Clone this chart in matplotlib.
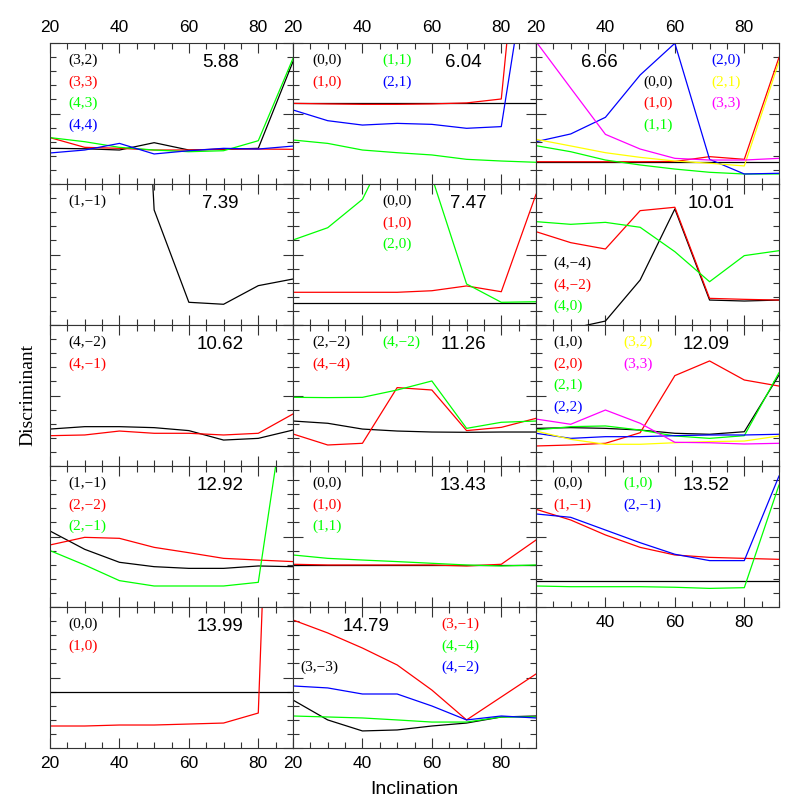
import matplotlib
matplotlib.use("Agg")
import matplotlib.pyplot as plt

# ---------------- data ----------------
INCL = [20, 30, 40, 50, 60, 70, 80, 90]

# panel 5.88
p1_32 = [2.53, 2.50, 2.41, 2.93, 2.41, 2.46, 2.53, 8.68]
p1_33 = [3.29, 2.60, 2.53, 2.41, 2.41, 2.48, 2.48, 2.46]
p1_43 = [3.29, 3.00, 2.60, 2.41, 2.29, 2.36, 3.07, 8.91]
p1_44 = [2.20, 2.41, 2.88, 2.13, 2.36, 2.53, 2.48, 2.69]
# panel 6.04
p2_00 = [5.72, 5.72, 5.72, 5.72, 5.72, 5.72, 5.72, 5.72]
p2_10 = [5.72, 5.68, 5.65, 5.65, 5.68, 5.75, 6.03, 31.0]
p2_11 = [3.12, 2.88, 2.41, 2.22, 2.06, 1.75, 1.63, 1.54]
p2_21 = [5.25, 4.49, 4.18, 4.30, 4.23, 3.95, 4.07, 19.7]
# panel 6.66
p3_00 = [1.58, 1.58, 1.58, 1.58, 1.58, 1.58, 1.58, 1.58]
p3_10 = [1.58, 1.58, 1.58, 1.58, 1.60, 1.94, 1.75, 8.98]
p3_11 = [2.72, 2.29, 1.70, 1.35, 1.06, 0.83, 0.71, 0.71]
p3_20 = [3.00, 3.55, 4.73, 7.73, 9.98, 1.75, 0.71, 0.76]
p3_21 = [3.17, 2.70, 2.22, 1.89, 1.63, 1.47, 1.28, 8.68]
p3_33 = [10.1, 6.80, 3.52, 2.48, 1.82, 1.70, 1.70, 1.82]
# panel 7.39
p4_1m1 = [60.0, 58.0, 54.0, 8.16, 1.61, 1.47, 2.79, 3.26]
# panel 7.47
p5_00 = [1.54, 1.54, 1.54, 1.54, 1.54, 1.54, 1.54, 1.54]
p5_10 = [2.32, 2.32, 2.32, 2.32, 2.43, 2.77, 2.36, 9.27]
p5_20 = [6.03, 6.90, 8.91, 13.9, 10.5, 2.91, 1.61, 1.65]
# panel 10.01
p6_4m4 = [-0.50, -0.26, 0.28, 3.19, 8.23, 1.77, 1.70, 1.77]
p6_4m2 = [6.62, 5.84, 5.39, 8.11, 8.35, 1.89, 1.82, 1.77]
p6_40 = [7.33, 7.14, 7.28, 6.93, 5.20, 3.07, 4.92, 5.27]
# panel 10.62
p7_4m2 = [2.62, 2.79, 2.79, 2.72, 2.51, 1.84, 1.96, 2.55]
p7_4m1 = [2.15, 2.20, 2.48, 2.32, 2.32, 2.20, 2.32, 3.69]
# panel 11.26
p8_2m2 = [3.19, 3.03, 2.62, 2.48, 2.41, 2.39, 2.41, 2.41]
p8_4m4 = [2.27, 1.49, 1.61, 5.56, 5.39, 2.51, 2.74, 3.38]
p8_4m2 = [4.87, 4.85, 4.87, 5.39, 6.03, 2.67, 3.10, 3.19]
# panel 12.09
p9_10 = [2.67, 2.72, 2.67, 2.55, 2.32, 2.25, 2.43, 6.45]
p9_20 = [1.42, 1.49, 1.61, 2.36, 6.41, 7.45, 6.10, 5.67]
p9_21 = [2.55, 2.79, 2.84, 2.55, 2.13, 1.96, 2.15, 6.62]
p9_22 = [2.32, 1.96, 2.08, 2.08, 2.15, 2.20, 2.20, 2.25]
p9_32 = [2.48, 1.89, 1.54, 1.54, 1.65, 1.73, 1.77, 2.13]
p9_33 = [3.33, 2.96, 3.97, 3.03, 1.68, 1.65, 1.56, 1.61]
# panel 12.92
p10_1m1 = [5.39, 4.09, 3.17, 2.86, 2.74, 2.74, 2.91, 2.86]
p10_2m2 = [4.40, 4.94, 4.87, 4.23, 3.85, 3.45, 3.33, 3.22]
p10_2m1 = [4.00, 2.98, 1.87, 1.49, 1.49, 1.49, 1.75, 18.25]
# panel 13.43
p11_00 = [2.98, 2.98, 2.98, 2.98, 2.98, 2.98, 2.98, 2.98]
p11_10 = [3.03, 2.98, 2.98, 2.98, 2.98, 2.91, 3.03, 4.75]
p11_11 = [3.69, 3.45, 3.33, 3.22, 3.10, 2.98, 2.91, 2.98]
# panel 13.52
p12_00 = [1.84, 1.84, 1.84, 1.84, 1.84, 1.84, 1.84, 1.84]
p12_1m1 = [6.93, 6.17, 5.11, 4.23, 3.69, 3.52, 3.45, 3.38]
p12_10 = [1.49, 1.44, 1.44, 1.44, 1.40, 1.32, 1.37, 8.65]
p12_2m1 = [6.60, 6.36, 5.46, 4.56, 3.74, 3.29, 3.29, 9.29]
# panel 13.99
p13_00 = [3.97, 3.97, 3.97, 3.97, 3.97, 3.97, 3.97, 3.97]
p13_10 = [1.56, 1.56, 1.63, 1.63, 1.70, 1.77, 2.48, 70.0]
# panel 14.79
p14_3m3 = [3.40, 1.99, 1.21, 1.28, 1.56, 1.77, 2.20, 2.27]
p14_3m1 = [9.08, 8.16, 7.09, 5.89, 4.11, 1.99, 3.62, 5.25]
p14_4m4 = [2.27, 2.20, 2.13, 1.99, 1.84, 1.84, 2.20, 2.20]
p14_4m2 = [4.40, 4.26, 3.83, 3.83, 2.98, 1.99, 2.27, 2.13]

TITLES = ["5.88", "6.04", "6.66", "7.39", "7.47", "10.01", "10.62",
          "11.26", "12.09", "12.92", "13.43", "13.52", "13.99", "14.79"]

K, R, G, B, Y, M = "#000000", "#ff0000", "#00ff00", "#0000ff", "#ffff00", "#ff00ff"
MINUS = "\u2212"

def lab(s):
    return s.replace("-", MINUS)

# each series: (label, values, colour, label x, label y) in axes fractions
Y0, Y1, Y2, Y3 = 0.88, 0.725, 0.57, 0.415
PANELS = [
    (0, 0, 0.70, 0.86, [("(3,2)", p1_32, K, 0.074, Y0), ("(3,3)", p1_33, R, 0.074, Y1),
                        ("(4,3)", p1_43, G, 0.074, Y2), ("(4,4)", p1_44, B, 0.074, Y3)]),
    (0, 1, 0.70, 0.86, [("(0,0)", p2_00, K, 0.078, Y0), ("(1,0)", p2_10, R, 0.078, Y1),
                        ("(1,1)", p2_11, G, 0.366, Y0), ("(2,1)", p2_21, B, 0.366, Y1)]),
    (0, 2, 0.26, 0.86, [("(0,0)", p3_00, K, 0.44, 0.725), ("(1,0)", p3_10, R, 0.44, 0.57),
                        ("(1,1)", p3_11, G, 0.44, 0.415), ("(2,0)", p3_20, B, 0.72, Y0),
                        ("(2,1)", p3_21, Y, 0.72, Y1), ("(3,3)", p3_33, M, 0.72, Y2)]),
    (1, 0, 0.70, 0.86, [("(1,-1)", p4_1m1, K, 0.074, Y0)]),
    (1, 1, 0.72, 0.86, [("(0,0)", p5_00, K, 0.366, Y0), ("(1,0)", p5_10, R, 0.366, Y1),
                        ("(2,0)", p5_20, G, 0.366, Y2)]),
    (1, 2, 0.72, 0.86, [("(4,-4)", p6_4m4, K, 0.07, 0.44), ("(4,-2)", p6_4m2, R, 0.07, 0.285),
                        ("(4,0)", p6_40, G, 0.07, 0.13)]),
    (2, 0, 0.70, 0.86, [("(4,-2)", p7_4m2, K, 0.074, Y0), ("(4,-1)", p7_4m1, R, 0.074, Y1)]),
    (2, 1, 0.70, 0.86, [("(2,-2)", p8_2m2, K, 0.078, Y0), ("(4,-4)", p8_4m4, R, 0.078, Y1),
                        ("(4,-2)", p8_4m2, G, 0.366, Y0)]),
    (2, 2, 0.70, 0.86, [("(1,0)", p9_10, K, 0.07, Y0), ("(2,0)", p9_20, R, 0.07, Y1),
                        ("(2,1)", p9_21, G, 0.07, Y2), ("(2,2)", p9_22, B, 0.07, Y3),
                        ("(3,2)", p9_32, Y, 0.36, Y0), ("(3,3)", p9_33, M, 0.36, Y1)]),
    (3, 0, 0.70, 0.86, [("(1,-1)", p10_1m1, K, 0.074, Y0), ("(2,-2)", p10_2m2, R, 0.074, Y1),
                        ("(2,-1)", p10_2m1, G, 0.074, Y2)]),
    (3, 1, 0.70, 0.86, [("(0,0)", p11_00, K, 0.078, Y0), ("(1,0)", p11_10, R, 0.078, Y1),
                        ("(1,1)", p11_11, G, 0.078, Y2)]),
    (3, 2, 0.70, 0.86, [("(0,0)", p12_00, K, 0.07, Y0), ("(1,-1)", p12_1m1, R, 0.07, Y1),
                        ("(1,0)", p12_10, G, 0.36, Y0), ("(2,-1)", p12_2m1, B, 0.36, Y1)]),
    (4, 0, 0.70, 0.86, [("(0,0)", p13_00, K, 0.074, Y0), ("(1,0)", p13_10, R, 0.074, Y1)]),
    (4, 1, 0.30, 0.86, [("(3,-3)", p14_3m3, K, 0.03, Y2), ("(3,-1)", p14_3m1, R, 0.61, Y0),
                        ("(4,-4)", p14_4m4, G, 0.61, Y1), ("(4,-2)", p14_4m2, B, 0.61, Y2)]),
]

SANS = "Liberation Sans"
SERIF = "Liberation Serif"

fig = plt.figure(figsize=(7.97, 7.97), dpi=100)
PX = 797.0
LEFT, TOP, CW, RH = 50, 43, 243, 141

for i, (r, c, tx, ty, series) in enumerate(PANELS):
    ax = fig.add_axes([(LEFT + CW * c) / PX, 1 - (TOP + RH * (r + 1)) / PX, CW / PX, RH / PX])
    ax.set_xlim(20, 90)
    ax.set_ylim(0, 10)
    ax.set_xticks([20, 40, 60, 80])
    ax.set_xticks(list(range(20, 91, 5)), minor=True)
    ax.set_yticks([0, 5, 10])
    ax.set_yticks(list(range(0, 11)), minor=True)
    ax.tick_params(which="both", direction="in", top=True, right=True,
                   labelbottom=False, labelleft=False, width=0.8, color="#333333")
    ax.tick_params(which="major", length=7, pad=6)
    ax.tick_params(which="minor", length=4)
    for s in ax.spines.values():
        s.set_linewidth(0.8)
        s.set_color("#333333")
    if r == 0:
        ax.tick_params(labeltop=True)
    if r == 4 or (r == 3 and c == 2):
        ax.tick_params(labelbottom=True)
    labels = ["20", "40", "60", "80"]
    if r == 3 and c == 2:
        labels = ["", "40", "60", "80"]
    ax.set_xticklabels(labels, fontfamily=SANS, fontsize=12.5)
    for name, vals, col, lx, ly in series:
        ax.plot(INCL, vals, color=col, lw=0.9)
        ax.text(lx, ly, lab(name), color=col, transform=ax.transAxes,
                ha="left", va="center", fontfamily=SERIF, fontsize=11)
    ax.text(tx, ty, TITLES[i], transform=ax.transAxes, ha="center", va="center",
            fontfamily=SANS, fontsize=13.5, color="black")

fig.text(28 / PX, 1 - 395 / PX, "Discriminant", rotation=90, ha="center", va="center",
         fontfamily=SERIF, fontsize=14)
fig.text(414 / PX, 1 - 789 / PX, "Inclination", ha="center", va="center",
         fontfamily=SANS, fontsize=14)

fig.savefig("out.png", dpi=100)
